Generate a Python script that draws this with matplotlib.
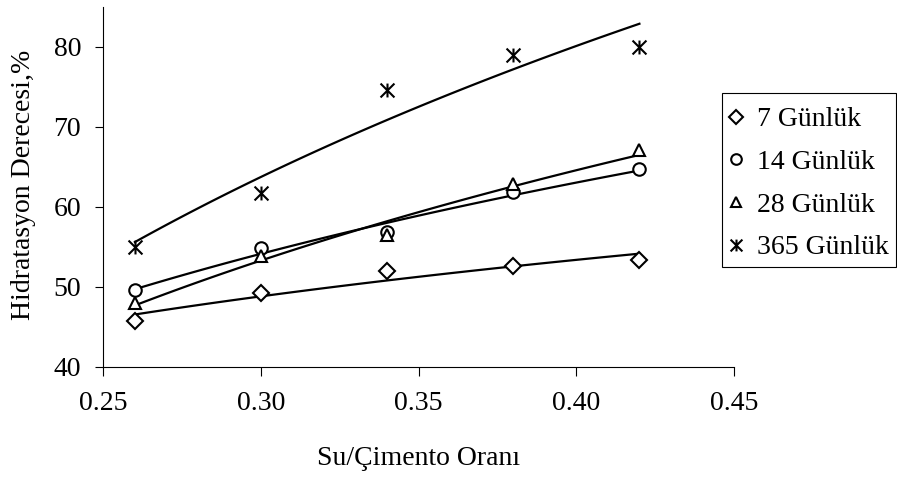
import numpy as np
import matplotlib.pyplot as plt
from matplotlib.path import Path
from matplotlib.patches import Rectangle
from matplotlib.ticker import FormatStrFormatter

plt.rcParams['font.family'] = ['Liberation Serif', 'DejaVu Serif']

# Data
wc_ratio = [0.26, 0.30, 0.34, 0.38, 0.42]
day7 = [45.7, 49.2, 52.0, 52.6, 53.3]
day14 = [49.6, 54.9, 56.8, 61.8, 64.7]
day28 = [48.0, 53.8, 56.5, 62.8, 67.1]
day365 = [55.0, 61.7, 74.6, 79.0, 80.0]
labels = ['7 Günlük', '14 Günlük', '28 Günlük', '365 Günlük']

x_ticks = [0.25, 0.30, 0.35, 0.40, 0.45]
y_ticks = [40, 50, 60, 70, 80]

# Excel style asterisk marker (X plus vertical bar)
star = Path([(0, -1), (0, 1), (-1, -1), (1, 1), (-1, 1), (1, -1)],
            [Path.MOVETO, Path.LINETO, Path.MOVETO, Path.LINETO, Path.MOVETO, Path.LINETO])

series = [day7, day14, day28, day365]
markers = ['D', 'o', '^', star]
sizes = [8, 9, 9, 10]

fig = plt.figure(figsize=(8.97, 4.78), dpi=100)
ax = fig.add_axes([0.1152, 0.2329, 0.7031, 0.7525])

x = np.array(wc_ratio)
xs = np.linspace(x.min(), x.max(), 100)
for y, m, s, lab in zip(series, markers, sizes, labels):
    y = np.array(y)
    ax.plot(x, y, linestyle='none', marker=m, ms=s, mfc='white', mec='black',
            mew=1.5, label=lab, zorder=3)
    # logarithmic trendline like Excel
    b, a = np.polyfit(np.log(x), y, 1)
    ax.plot(xs, a + b * np.log(xs), color='black', lw=1.6, zorder=2)

ax.set_xlim(0.25, 0.45)
ax.set_ylim(40, 85)
ax.set_xticks(x_ticks)
ax.set_yticks(y_ticks)
ax.xaxis.set_major_formatter(FormatStrFormatter('%.2f'))
for side in ['top', 'right']:
    ax.spines[side].set_visible(False)
for side in ['left', 'bottom']:
    ax.spines[side].set_linewidth(0.8)
ax.tick_params(axis='x', direction='out', length=6.5, width=0.8, pad=11, labelsize=20)
ax.tick_params(axis='y', direction='out', length=6, width=0.8, pad=10, labelsize=20)

fig.text(418.5 / 897, 1 - 465 / 478, 'Su/Çimento Oranı', ha='center', va='baseline', fontsize=20)
fig.text(30 / 897, 1 - 185 / 478, 'Hidratasyon Derecesi,%', ha='center', va='baseline',
         rotation=90, rotation_mode='anchor', fontsize=20)

# legend box drawn by hand, entries from a frameless legend
fig.patches.append(Rectangle((722 / 897, 1 - 267 / 478), 174 / 897, 174 / 478,
                             transform=fig.transFigure, fill=False, edgecolor='black', lw=0.8))
ax.legend(loc='upper left', bbox_to_anchor=(722 / 897, 1 - 100 / 478),
          bbox_transform=fig.transFigure, fontsize=20, frameon=False,
          borderaxespad=0, borderpad=0.25, handlelength=0.5, handletextpad=0.5,
          labelspacing=0.62, markerscale=0.85)

fig.savefig('out.png', dpi=100)
